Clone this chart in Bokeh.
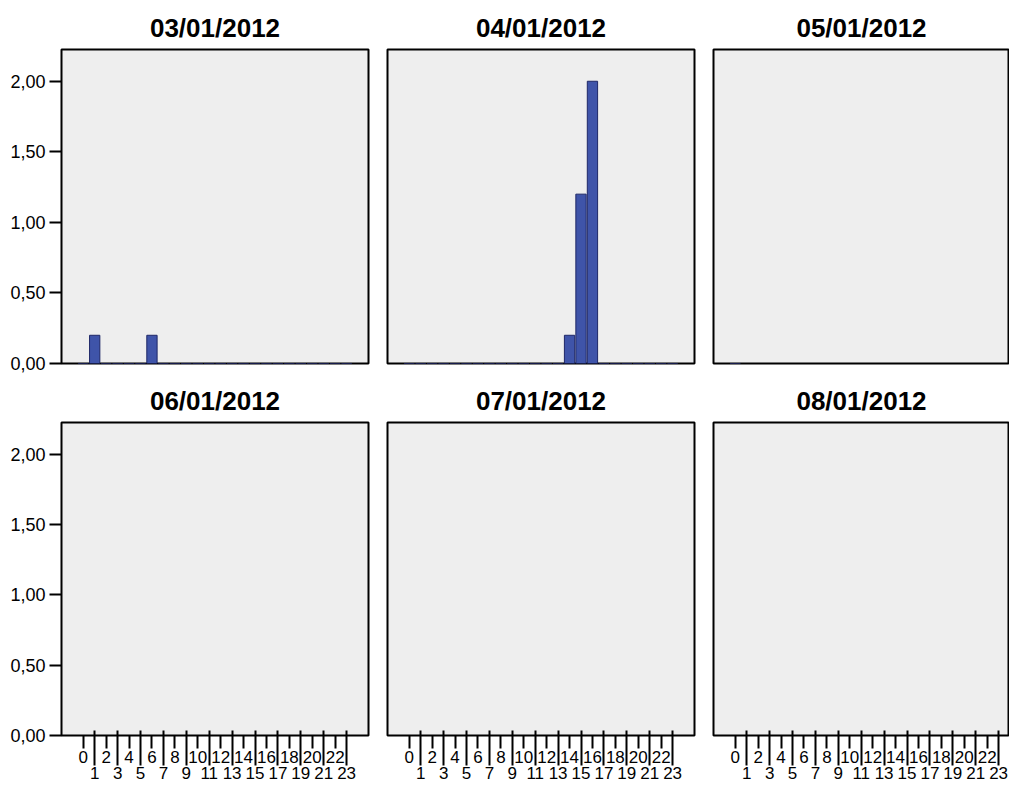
from bokeh.plotting import figure
from bokeh.layouts import column, row
from bokeh.models import LinearAxis, FixedTicker, Range1d, ColumnDataSource
from bokeh.embed import file_html
from bokeh.resources import INLINE

# ---------------- data ----------------
titles = ["03/01/2012", "04/01/2012", "05/01/2012",
          "06/01/2012", "07/01/2012", "08/01/2012"]

hours_full = [0, 1, 2, 3, 4, 5, 6, 7, 8, 9, 10, 11,
              12, 13, 14, 15, 16, 17, 18, 19, 20, 21, 22, 23]

mar_hours = hours_full
mar_values = [0.0, 0.2, 0.0, 0.0, 0.0, 0.0, 0.2, 0.0, 0.0, 0.0, 0.0, 0.0,
              0.0, 0.0, 0.0, 0.0, 0.0, 0.0, 0.0, 0.0, 0.0, 0.0, 0.0, 0.0]

apr_hours = hours_full
apr_values = [0.0, 0.0, 0.0, 0.0, 0.0, 0.0, 0.0, 0.0, 0.0, 0.0, 0.0, 0.0,
              0.0, 0.0, 0.2, 1.2, 2.0, 0.0, 0.0, 0.0, 0.0, 0.0, 0.0, 0.0]

may_hours = [0]
may_values = [0.0]

jun_hours, jun_values = [], []
jul_hours, jul_values = [], []
aug_hours, aug_values = [], []

y_ticks = [0.0, 0.5, 1.0, 1.5, 2.0]
y_tick_labels = ["0,00", "0,50", "1,00", "1,50", "2,00"]
x_ticks_even = [0, 2, 4, 6, 8, 10, 12, 14, 16, 18, 20, 22]
x_ticks_odd = [1, 3, 5, 7, 9, 11, 13, 15, 17, 19, 21, 23]

series = [(mar_hours, mar_values), (apr_hours, apr_values), (may_hours, may_values),
          (jun_hours, jun_values), (jul_hours, jul_values), (aug_hours, aug_values)]

# ---------------- style ----------------
FONT = "Liberation Sans"
BAR_FILL = "#3F54A9"
BAR_LINE = "#1E2767"
BG = "#EEEEEE"
PX_PER_HOUR = 11.45
X_START = -1.9
Y_END = 2.225


def make_fig(i):
    r, c = divmod(i, 3)
    if c == 0:
        w, bl, br = 377, 61, 9
    elif c == 1:
        w, bl, br = 326, 10, 9
    else:
        w, bl, br = 306, 10, 0
    frame_w = w - bl - br
    if r == 0:
        h, bt, bb = 375, 49, 12
    else:
        h, bt, bb = 414, 47, 54
    p = figure(width=w, height=h, output_backend="svg", toolbar_location=None,
               x_axis_location=None, y_axis_location=None,
               x_range=Range1d(X_START, X_START + frame_w / PX_PER_HOUR),
               y_range=Range1d(0, Y_END),
               min_border_left=bl, min_border_right=br,
               min_border_top=bt, min_border_bottom=bb,
               background_fill_color=BG, border_fill_color="white")
    p.grid.visible = False
    p.outline_line_color = "black"
    p.outline_line_width = 2
    p.title.text = titles[i]
    p.title.align = "center"
    p.title.text_font = FONT
    p.title.text_font_size = "26px"
    p.title.text_font_style = "bold"
    p.title.text_color = "black"
    p.title.standoff = 13

    hrs, vals = series[i]
    src = ColumnDataSource(dict(x=hrs, top=vals))
    p.vbar(x="x", top="top", bottom=0, width=0.9, source=src,
           fill_color=BAR_FILL, line_color=BAR_LINE, line_width=1)

    if c == 0:
        ya = LinearAxis(ticker=FixedTicker(ticks=y_ticks),
                        major_label_overrides=dict(zip(y_ticks, y_tick_labels)),
                        axis_line_color=None, major_tick_out=12, major_tick_in=0,
                        major_tick_line_width=2, major_tick_line_color="black",
                        minor_tick_line_color=None, major_label_standoff=4,
                        major_label_text_font=FONT, major_label_text_font_size="18px",
                        major_label_text_color="black")
        p.add_layout(ya, "left")
    if r == 1:
        axa = LinearAxis(ticker=FixedTicker(ticks=x_ticks_even),
                         axis_line_color=None, major_tick_out=13, major_tick_in=0,
                         major_tick_line_width=2, major_tick_line_color="black",
                         minor_tick_line_color=None, major_label_standoff=2,
                         major_label_text_font=FONT, major_label_text_font_size="17px",
                         major_label_text_color="black")
        axb = LinearAxis(ticker=FixedTicker(ticks=x_ticks_odd),
                         axis_line_color=None, major_tick_out=0, major_tick_in=35,
                         major_tick_line_width=2, major_tick_line_color="black",
                         minor_tick_line_color=None, major_label_standoff=1,
                         major_label_text_font=FONT, major_label_text_font_size="17px",
                         major_label_text_color="black")
        p.add_layout(axa, "below")
        p.add_layout(axb, "below")
    return p


figs = [make_fig(i) for i in range(6)]
layout = column(row(*figs[:3]), row(*figs[3:]))

open("out.html", "w").write(file_html(layout, INLINE))
